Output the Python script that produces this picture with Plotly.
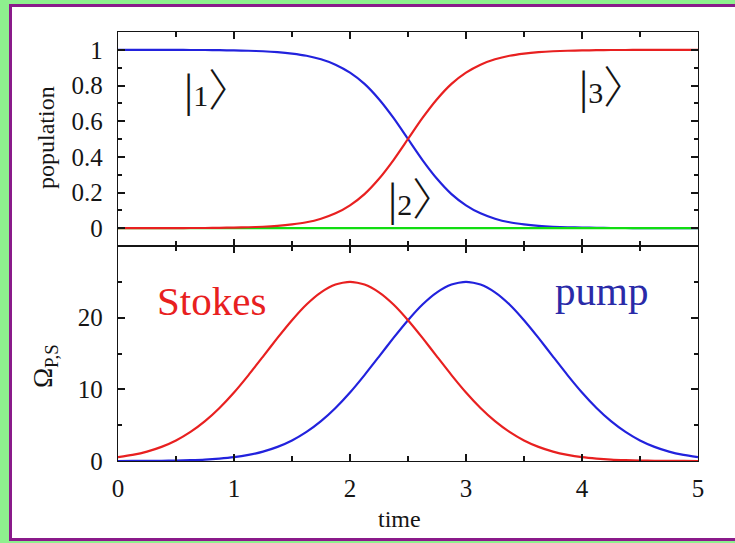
import plotly.graph_objects as go
from plotly.subplots import make_subplots

# ---- data ----
time = [i * 0.125 for i in range(41)]
pop1 = [1.0, 1.0, 1.0, 1.0, 1.0, 0.999, 0.999, 0.998, 0.997, 0.995, 0.992,
        0.987, 0.979, 0.967, 0.947, 0.917, 0.872, 0.809, 0.723, 0.618, 0.5,
        0.382, 0.277, 0.191, 0.128, 0.083, 0.053, 0.033, 0.021, 0.013, 0.008,
        0.005, 0.003, 0.002, 0.001, 0.001, 0.0, 0.0, 0.0, 0.0, 0.0]
pop2 = [0.0] * 41
pop3 = [0.0, 0.0, 0.0, 0.0, 0.0, 0.001, 0.001, 0.002, 0.003, 0.005, 0.008,
        0.013, 0.021, 0.033, 0.053, 0.083, 0.128, 0.191, 0.277, 0.382, 0.5,
        0.618, 0.723, 0.809, 0.872, 0.917, 0.947, 0.967, 0.979, 0.987, 0.992,
        0.995, 0.997, 0.998, 0.999, 0.999, 1.0, 1.0, 1.0, 1.0, 1.0]
stokes = [0.53, 0.85, 1.31, 1.97, 2.87, 4.06, 5.56, 7.40, 9.56, 11.99, 14.57,
          17.18, 19.65, 21.84, 23.54, 24.63, 25.0, 24.63, 23.54, 21.84, 19.65,
          17.18, 14.57, 11.99, 9.56, 7.40, 5.56, 4.06, 2.87, 1.97, 1.31, 0.85,
          0.53, 0.33, 0.19, 0.11, 0.06, 0.03, 0.02, 0.01, 0.0]
pump = [0.0, 0.01, 0.02, 0.03, 0.06, 0.11, 0.19, 0.33, 0.53, 0.85, 1.31, 1.97,
        2.87, 4.06, 5.56, 7.40, 9.56, 11.99, 14.57, 17.18, 19.65, 21.84, 23.54,
        24.63, 25.0, 24.63, 23.54, 21.84, 19.65, 17.18, 14.57, 11.99, 9.56,
        7.40, 5.56, 4.06, 2.87, 1.97, 1.31, 0.85, 0.53]
pop_ticks = [0, 0.2, 0.4, 0.6, 0.8, 1]
omega_ticks = [0, 10, 20]
time_ticks = [0, 1, 2, 3, 4, 5]

BLUE = "#2222dd"
RED = "#e82020"
GREEN = "#11dd11"
FONT = "Liberation Serif"
INK = "#151515"

W, H = 735, 543
L, R, T, B = 118, 698, 32, 461  # plot area pixels


def px(x):
    return (x - L) / (R - L)


def py(y):
    return (B - y) / (B - T)


fig = make_subplots(rows=2, cols=1, shared_xaxes=True, vertical_spacing=0)

line = dict(width=2.2, shape="spline", smoothing=0.6)
fig.add_trace(go.Scatter(x=time, y=pop1, mode="lines", line=dict(color=BLUE, **line)), row=1, col=1)
fig.add_trace(go.Scatter(x=time, y=pop2, mode="lines", line=dict(color=GREEN, **line)), row=1, col=1)
fig.add_trace(go.Scatter(x=time, y=pop3, mode="lines", line=dict(color=RED, **line)), row=1, col=1)
fig.add_trace(go.Scatter(x=time, y=pump, mode="lines", line=dict(color=BLUE, **line)), row=2, col=1)
fig.add_trace(go.Scatter(x=time, y=stokes, mode="lines", line=dict(color=RED, **line)), row=2, col=1)

split = py(246)
axcommon = dict(showline=True, linecolor=INK, linewidth=1.4, mirror="allticks",
                ticks="inside", ticklen=7, tickwidth=1.5, tickcolor=INK,
                showgrid=False, zeroline=False,
                tickfont=dict(family=FONT, size=25, color=INK))

fig.update_xaxes(range=[0, 5], tickvals=time_ticks,
                 minor=dict(dtick=0.5, tick0=0, ticks="inside", ticklen=5, tickcolor=INK),
                 ticklabelstandoff=5, **axcommon)
fig.update_yaxes(**axcommon)
fig.update_layout(
    yaxis=dict(domain=[split, 1], range=[-0.1, 1.1], tickvals=pop_ticks,
               minor=dict(dtick=0.1, tick0=0, ticks="inside", ticklen=4, tickcolor=INK),
               ticklabelstandoff=9),
    yaxis2=dict(domain=[0, split], range=[0, 30], tickvals=omega_ticks,
                minor=dict(dtick=5, tick0=0, ticks="inside", ticklen=4, tickcolor=INK),
                ticklabelstandoff=9),
)

fig.update_layout(
    width=W, height=H,
    margin=dict(l=L, r=W - R, t=T, b=H - B),
    paper_bgcolor="#8ef08e",
    plot_bgcolor="white",
    showlegend=False,
    shapes=[dict(type="rect", xref="paper", yref="paper", layer="below",
                 x0=px(10.5), x1=px(760), y0=py(539.5), y1=py(5.5),
                 fillcolor="white", line=dict(color="#8a1a8a", width=3))],
)

bar = "<span style='font-size:46px'>|</span>"
rb = "<span style=\"font-size:44px;font-family:'Noto Sans CJK JP';font-weight:300\">〉</span>"
ann = []
for d, x, y in [("1", 0.86, 0.79), ("2", 2.62, 0.18), ("3", 4.27, 0.81)]:
    ann.append(dict(text=bar + d + rb, x=x, y=y,
                    xref="x", yref="y", showarrow=False,
                    xanchor="center", yanchor="middle",
                    font=dict(family=FONT, size=30, color=INK)))
ann.append(dict(text="Stokes", x=0.81, y=22.3, xref="x2", yref="y2", showarrow=False,
                xanchor="center", yanchor="middle",
                font=dict(family=FONT, size=41, color=RED)))
ann.append(dict(text="pump", x=4.17, y=23.7, xref="x2", yref="y2", showarrow=False,
                xanchor="center", yanchor="middle",
                font=dict(family=FONT, size=41, color="#2a2aa8")))
ann.append(dict(text="population", x=px(46), y=py(138), xref="paper", yref="paper",
                textangle=-90, showarrow=False, xanchor="center", yanchor="middle",
                font=dict(family=FONT, size=24, color=INK)))
ann.append(dict(text="Ω<sub>P,S</sub>", x=px(45), y=py(366), xref="paper", yref="paper",
                textangle=-90, showarrow=False, xanchor="center", yanchor="middle",
                font=dict(family=FONT, size=27, color=INK)))
ann.append(dict(text="time", x=px(399), y=py(519), xref="paper", yref="paper",
                showarrow=False, xanchor="center", yanchor="middle",
                font=dict(family=FONT, size=24, color=INK)))
fig.update_layout(annotations=ann)

fig.write_html("out.html")
